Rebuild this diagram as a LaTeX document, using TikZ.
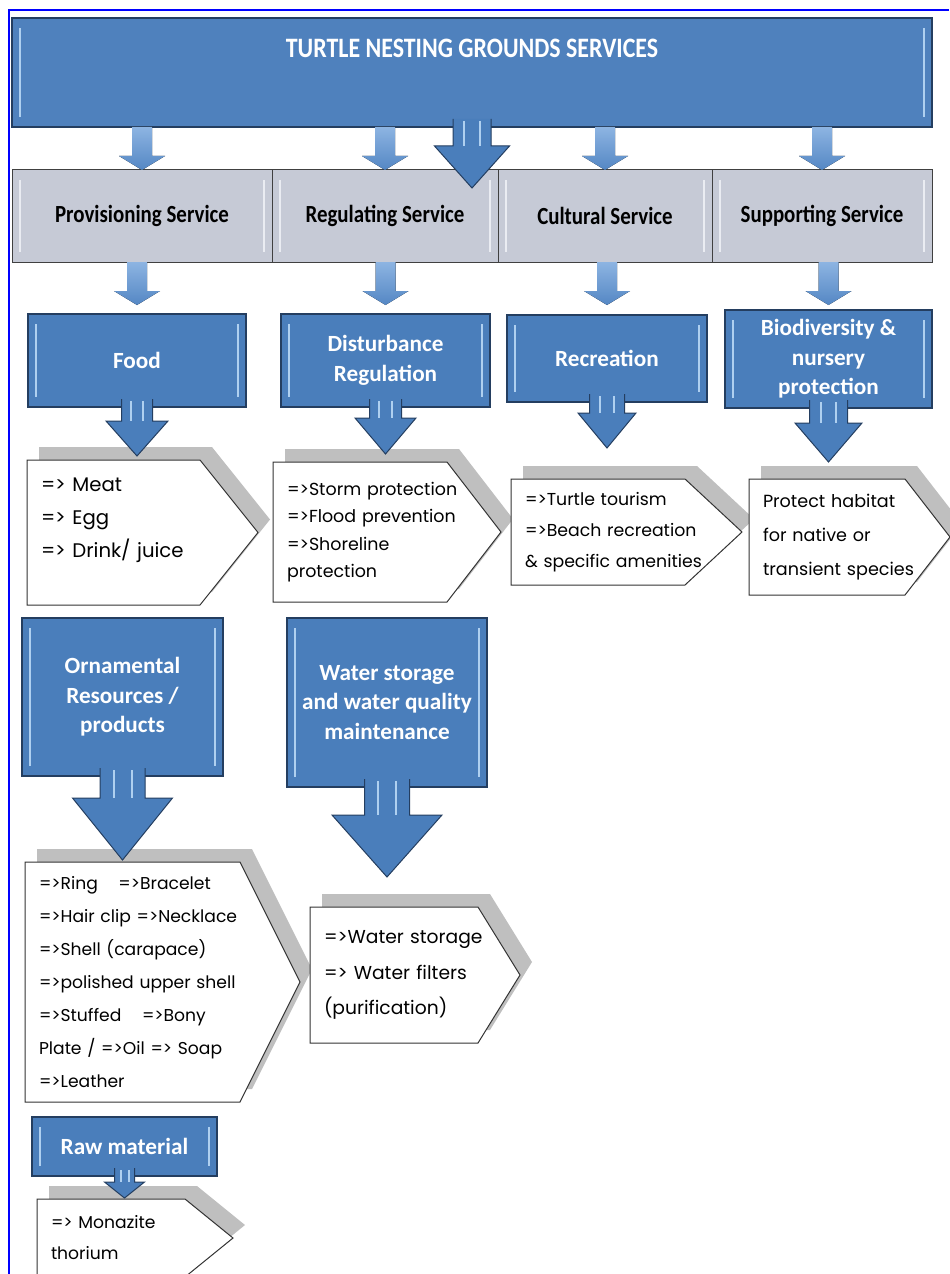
\documentclass[tikz,border=0pt]{standalone}
\usepackage{fontspec}
\setmainfont{Poppins}
\newfontfamily\headfont{Carlito}
\newfontfamily\condfont{Carlito}[FakeStretch=0.85]
\usepackage{tikz}
\usetikzlibrary{calc}
\usetikzlibrary{backgrounds}

\newlength\pixel
\setlength\pixel{0.025cm}

\definecolor{frameblue}{RGB}{0,0,255}
\definecolor{titleblue}{RGB}{79,129,189}
\definecolor{boxblue}{RGB}{74,126,187}
\definecolor{boxedge}{RGB}{36,62,96}
\definecolor{stripeblue}{RGB}{175,208,240}
\definecolor{servgray}{RGB}{198,202,214}
\definecolor{stripegray}{RGB}{234,236,242}
\definecolor{shadowgray}{RGB}{191,191,191}
\definecolor{arrowtop}{RGB}{141,180,226}
\definecolor{arrowbot}{RGB}{84,135,196}

\tikzset{
	stripes/.style={path picture={
		\draw[#1,line width=2\pixel] ([xshift=8\pixel,yshift=-10\pixel]path picture bounding box.north west) -- ([xshift=8\pixel,yshift=10\pixel]path picture bounding box.south west);
		\draw[#1,line width=2\pixel] ([xshift=-8\pixel,yshift=-10\pixel]path picture bounding box.north east) -- ([xshift=-8\pixel,yshift=10\pixel]path picture bounding box.south east);}},
	titlebox/.style={anchor=north west,fill=titleblue,draw=boxedge,line width=1.2\pixel,stripes=stripeblue,text=white,font=\condfont\bfseries\fontsize{20}{24}\selectfont,inner sep=0pt,outer sep=0pt},
	servbox/.style={anchor=north west,fill=servgray,draw=black!75,line width=1\pixel,stripes=stripegray,font=\condfont\bfseries\fontsize{17.5}{20}\selectfont,inner sep=0pt,outer sep=0pt,minimum height=92\pixel},
	bluebox/.style={anchor=north west,fill=boxblue,draw=boxedge,line width=1.2\pixel,stripes=stripeblue,text=white,align=center,font=\headfont\bfseries\fontsize{16.5}{21}\selectfont,inner sep=0pt,outer sep=0pt},
	listbox/.style={anchor=north west,align=left,inner xsep=14\pixel,inner ysep=0pt,outer sep=0pt},
	listline/.style={draw=black!80,fill=white,line width=1\pixel},
	thinarrow/.style={top color=arrowtop,bottom color=arrowbot},
	thickarrow/.style={fill=boxblue,draw=boxedge,line width=1\pixel},
	glint/.style={draw=stripeblue,line width=2\pixel}
}

% white pentagon with grey shadow behind a list node
\newcommand{\listshape}[2]{%
	\begin{scope}[on background layer]
		\fill[shadowgray] ($(#1.north west)+(12,-13)$) -- ($(#1.north east)+({12-#2},-13)$) -- ($(#1.east)+(12,-13)$) -- ($(#1.south east)+({12-#2},-13)$) -- ($(#1.south west)+(12,-13)$) -- cycle;
		\draw[listline] (#1.north west) -- ($(#1.north east)+({-#2},0)$) -- (#1.east) -- ($(#1.south east)+({-#2},0)$) -- (#1.south west) -- cycle;
	\end{scope}}

% small arrow: from, to, gap
\newcommand{\feedarrow}[3]{%
	\coordinate (fa) at (#1.south -| #2.north);
	\coordinate (fb) at ($(#2.north)+(0,{-#3})$);
	\fill[thinarrow] ($(fa)+(-10,0)$) -- ($(fb)+(-10,-14)$) -- ($(fb)+(-23,-14)$) -- (fb) -- ($(fb)+(23,-14)$) -- ($(fb)+(10,-14)$) -- ($(fa)+(10,0)$) -- cycle;}

% big arrow: from, to, gap, shaft, head, head length
\newcommand{\fatarrow}[6]{%
	\coordinate (fa) at ($(#1.south)+(0,-8)$);
	\coordinate (fc) at (#1.south |- #2.north);
	\coordinate (fb) at ($(fc)+(0,{0-#3})$);
	\filldraw[thickarrow] ($(fa)+({-#4/2},0)$) -- ($(fb)+({-#4/2},{-#6})$) -- ($(fb)+({-#5/2},{-#6})$) -- (fb) -- ($(fb)+({#5/2},{-#6})$) -- ($(fb)+({#4/2},{-#6})$) -- ($(fa)+({#4/2},0)$);
	\draw[glint] ($(fa)+({-#4/5},2)$) -- ($(fb)+({-#4/5},{-#6})$);
	\draw[glint] ($(fa)+({#4/5},2)$) -- ($(fb)+({#4/5},{-#6})$);}

\begin{document}
\begin{tikzpicture}[x=1\pixel,y=-1\pixel]
	\useasboundingbox (0,0) rectangle (949,1274);
	\draw[frameblue,line width=2\pixel] (949,10) -- (9,10) -- (9,1274);

	\node[titlebox,minimum width=920\pixel,text height=40\pixel,text depth=69\pixel] (title) at (12,18) {TURTLE NESTING GROUNDS SERVICES};

	\node[servbox,minimum width=260\pixel] (prov) at (12,170) {Provisioning Service};
	\node[servbox,minimum width=226\pixel] (regul) at (272,170) {Regulating Service};
	\node[servbox,minimum width=214\pixel] (cult) at (498,170) {Cultural Service};
	\node[servbox,minimum width=220\pixel] (supp) at (712,170) {Supporting Service};

	\node[bluebox,minimum width=218\pixel,minimum height=93\pixel] (food) at (28,314) {Food};
	\node[bluebox,minimum width=209\pixel,minimum height=93\pixel] (disturb) at (281,314) {Disturbance\\Regulation};
	\node[bluebox,minimum width=200\pixel,minimum height=87\pixel] (recre) at (507,315) {Recreation};
	\node[bluebox,minimum width=207\pixel,minimum height=98\pixel] (biodiv) at (725,310) {Biodiversity \&\\nursery\\protection};

	\node[listbox,text width=203\pixel,minimum height=145\pixel,font=\fontsize{14}{23.5}\selectfont] (foodlist) at (27,460) {=> Meat\\=> Egg\\=> Drink/ juice\\[-10pt] \strut};
	\node[listbox,text width=200\pixel,minimum height=140\pixel,font=\fontsize{12.4}{19.5}\selectfont] (distlist) at (273,462) {=>Storm protection\\=>Flood prevention\\=>Shoreline\\protection};
	\node[listbox,text width=203\pixel,minimum height=106\pixel,font=\fontsize{12.3}{22}\selectfont] (recrelist) at (511,479) {=>Turtle tourism\\=>Beach recreation\\\& specific amenities};
	\node[listbox,text width=173\pixel,minimum height=116\pixel,font=\fontsize{12.5}{24}\selectfont] (biolist) at (749,479) {Protect habitat\\for native or\\transient species};

	\node[bluebox,minimum width=201\pixel,minimum height=158\pixel] (orna) at (22,618) {Ornamental\\Resources /\\products};
	\node[bluebox,minimum width=200\pixel,minimum height=169\pixel] (water) at (287,618) {Water storage\\and water quality\\maintenance};

	\node[listbox,text width=247\pixel,minimum height=240\pixel,font=\fontsize{12.2}{23.5}\selectfont] (ornalist) at (25,862) {=>Ring\hspace{1.2em}=>Bracelet\\=>Hair clip =>Necklace\\=>Shell (carapace)\\=>polished upper shell\\=>Stuffed\hspace{1.2em}=>Bony\\Plate / =>Oil => Soap\\=>Leather};
	\node[listbox,text width=182\pixel,minimum height=136\pixel,font=\fontsize{13.3}{25}\selectfont] (waterlist) at (310,907) {=>Water storage\\=> Water filters\\(purification)};

	\node[bluebox,minimum width=185\pixel,minimum height=59\pixel] (raw) at (32,1117) {Raw material};
	\node[listbox,text width=168\pixel,minimum height=78\pixel,font=\fontsize{12.2}{22}\selectfont] (rawlist) at (37,1199) {=> Monazite\\thorium};

	\listshape{foodlist}{58}
	\listshape{distlist}{54}
	\listshape{recrelist}{57}
	\listshape{biolist}{45}
	\listshape{ornalist}{60}
	\listshape{waterlist}{42}
	\listshape{rawlist}{48}

	\feedarrow{title}{prov}{0}
	\feedarrow{title}{regul}{0}
	\feedarrow{title}{cult}{0}
	\feedarrow{title}{supp}{0}
	\fatarrow{title}{regul}{-18}{38}{75}{42}

	\feedarrow{prov}{food}{9}
	\feedarrow{regul}{disturb}{9}
	\feedarrow{cult}{recre}{10}
	\feedarrow{supp}{biodiv}{5}

	\fatarrow{food}{foodlist}{4}{31}{62}{35}
	\fatarrow{disturb}{distlist}{8}{32}{61}{36}
	\fatarrow{recre}{recrelist}{31}{35}{58}{35}
	\fatarrow{biodiv}{biolist}{17}{38}{67}{39}
	\fatarrow{orna}{ornalist}{2}{45}{100}{62}
	\fatarrow{water}{waterlist}{30}{45}{110}{62}
	\fatarrow{raw}{rawlist}{1}{20}{40}{16}
\end{tikzpicture}
\end{document}
